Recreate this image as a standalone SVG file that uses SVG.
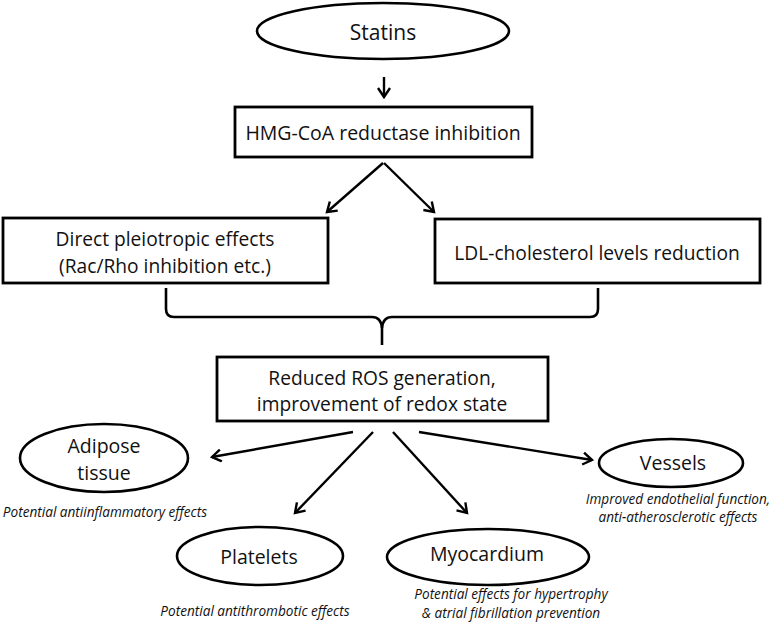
<svg xmlns="http://www.w3.org/2000/svg" width="771" height="628" viewBox="0 0 771 628">
<defs>
<marker id="ah" markerWidth="14" markerHeight="14" refX="11" refY="7" orient="auto" markerUnits="userSpaceOnUse">
<path d="M2,1 L11,7 L2,13" fill="none" stroke="#000" stroke-width="2.4" stroke-linejoin="miter"/>
</marker>
<style>
.box{fill:#fff;stroke:#000;stroke-width:2.8}
.ell{fill:#fff;stroke:#000;stroke-width:2.6}
.t{font-family:"Open Sans","Noto Sans",sans-serif;font-size:19.2px;fill:#111;text-anchor:middle;dominant-baseline:central}
.big{font-size:19.5px}
.st{font-size:21px}
.cap{font-family:"Open Sans","Noto Sans",sans-serif;font-style:italic;font-size:13.6px;fill:#111;text-anchor:middle;dominant-baseline:central}
.arr{fill:none;stroke:#000;stroke-width:2.4;marker-end:url(#ah)}
.br{fill:none;stroke:#000;stroke-width:2.6}
</style>
</defs>
<rect width="771" height="628" fill="#fff"/>
<g id="connectors">
<line class="arr" x1="384" y1="77" x2="384" y2="97"/>
<line class="arr" x1="383" y1="163" x2="327" y2="212"/>
<line class="arr" x1="384" y1="163" x2="434" y2="212"/>
<path class="br" d="M166,288 L166,309 Q166,317 174,317 L372,317 Q381,317 382,328 L382,345"/>
<path class="br" d="M598,288 L598,309 Q598,317 590,317 L392,317 Q383,317 382,328"/>
<line class="arr" x1="353" y1="432" x2="212" y2="457"/>
<line class="arr" x1="373" y1="432" x2="295" y2="513"/>
<line class="arr" x1="393" y1="432" x2="467" y2="513"/>
<line class="arr" x1="419" y1="432" x2="592" y2="460"/>
</g>
<g id="statins">
<ellipse class="ell" cx="383" cy="31" rx="126" ry="28"/>
<text class="t st" x="383" y="32">Statins</text>
</g>
<g id="hmg">
<rect class="box" x="235" y="107" width="297" height="50"/>
<text class="t big" x="383" y="132">HMG-CoA reductase inhibition</text>
</g>
<g id="pleiotropic">
<rect class="box" x="3" y="218" width="325" height="65"/>
<text class="t" x="165" y="238">Direct pleiotropic effects</text>
<text class="t" x="165" y="265">(Rac/Rho inhibition etc.)</text>
</g>
<g id="ldl">
<rect class="box" x="435" y="219" width="325" height="64"/>
<text class="t" x="597" y="252">LDL-cholesterol levels reduction</text>
</g>
<g id="ros">
<rect class="box" x="217" y="357" width="331" height="64"/>
<text class="t" x="382" y="377">Reduced ROS generation,</text>
<text class="t" x="382" y="403">improvement of redox state</text>
</g>
<g id="adipose">
<ellipse class="ell" cx="104" cy="458" rx="84" ry="34"/>
<text class="t big" x="104" y="445">Adipose</text>
<text class="t big" x="104" y="472">tissue</text>
<text class="cap" x="105" y="511">Potential antiinflammatory effects</text>
</g>
<g id="platelets">
<ellipse class="ell" cx="260" cy="556" rx="83" ry="29"/>
<text class="t big" x="259" y="556">Platelets</text>
<text class="cap" x="255" y="610">Potential antithrombotic effects</text>
</g>
<g id="myocardium">
<ellipse class="ell" cx="488" cy="557" rx="101" ry="28"/>
<text class="t big" x="487" y="553">Myocardium</text>
<text class="cap" x="511" y="593">Potential effects for hypertrophy</text>
<text class="cap" x="511" y="612">&amp; atrial fibrillation prevention</text>
</g>
<g id="vessels">
<ellipse class="ell" cx="671" cy="463" rx="72" ry="24"/>
<text class="t big" x="673" y="462">Vessels</text>
<text class="cap" x="678" y="498">Improved endothelial function,</text>
<text class="cap" x="678" y="516">anti-atherosclerotic effects</text>
</g>
</svg>
